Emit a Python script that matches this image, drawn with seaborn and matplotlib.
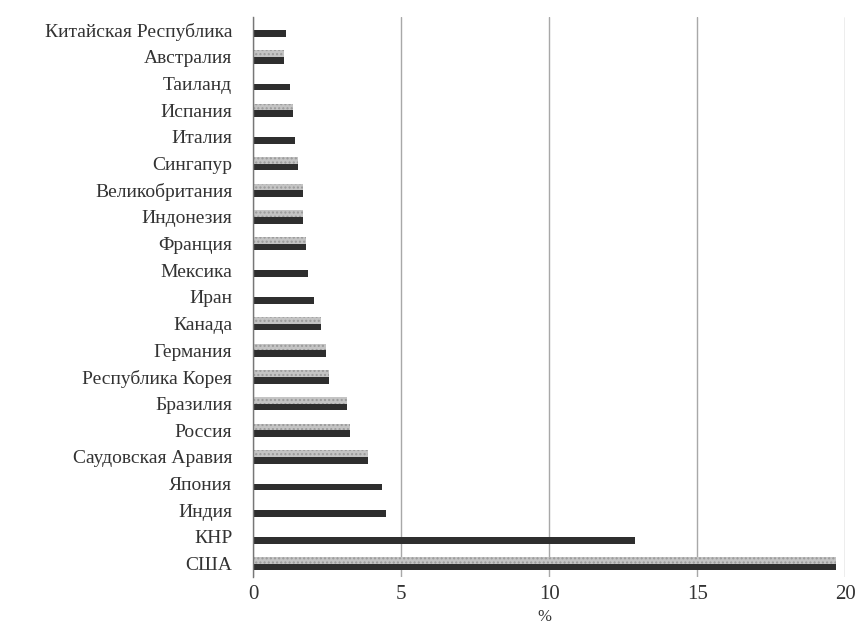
import matplotlib
matplotlib.use("Agg")
import matplotlib.pyplot as plt
import seaborn as sns
import pandas as pd
import numpy as np

countries = ["Китайская Республика", "Австралия", "Таиланд", "Испания", "Италия",
             "Сингапур", "Великобритания", "Индонезия", "Франция", "Мексика",
             "Иран", "Канада", "Германия", "Республика Корея", "Бразилия",
             "Россия", "Саудовская Аравия", "Япония", "Индия", "КНР", "США"]
dark_values = [1.1, 1.05, 1.25, 1.35, 1.4, 1.5, 1.7, 1.7, 1.8, 1.85,
               2.05, 2.3, 2.45, 2.57, 3.18, 3.28, 3.88, 4.36, 4.5, 12.9, 19.7]
light_values = [0, 1.05, 0, 1.35, 0, 1.5, 1.7, 1.7, 1.8, 0,
                0, 2.3, 2.45, 2.57, 3.18, 3.28, 3.88, 0, 0, 0, 19.7]
series_names = ["light", "dark"]
x_ticks = [0, 5, 10, 15, 20]

df = pd.DataFrame({
    "country": countries * 2,
    "value": light_values + dark_values,
    "series": [series_names[0]] * len(countries) + [series_names[1]] * len(countries),
})

sns.set_style("white")
plt.rcParams["font.family"] = ["Liberation Serif", "DejaVu Serif"]

fig = plt.figure(figsize=(8.58, 6.25), dpi=100)
ax = fig.add_axes([0.295, 0.077, 0.69, 0.896])

sns.barplot(data=df, y="country", x="value", hue="series", order=countries,
            hue_order=series_names, palette={"light": "#c4c4c4", "dark": "#2e2e2e"},
            orient="h", width=0.5, ax=ax, legend=False, saturation=1,
            edgecolor="none")

for p in ax.patches[:len(countries)]:
    p.set_hatch("....")
    p.set_edgecolor("#9a9a9a")
    p.set_linewidth(0)

ax.set_xlim(0, 20)
ax.set_xticks(x_ticks)
ax.set_xticklabels([str(t) for t in x_ticks], fontsize=15, color="#333333")
ax.tick_params(axis="x", length=0, pad=6)
ax.tick_params(axis="y", length=0, labelsize=14, labelcolor="#333333", pad=15)
ax.set_yticks(np.arange(len(countries)))
ax.set_yticks(np.arange(len(countries) + 1) - 0.5, minor=True)
ax.tick_params(axis="y", which="minor", length=4, color="#666666", direction="out")
ax.set_ylim(len(countries) - 0.5, -0.5)
ax.set_ylabel("")
ax.set_xlabel("")
fig.text(0.635, 0.0, "%", fontsize=12, ha="center", va="bottom", color="#333333")

ax.xaxis.grid(True, color="#a8a8a8", linewidth=1)
ax.set_axisbelow(True)
for s in ["top", "right", "bottom"]:
    ax.spines[s].set_visible(False)
ax.spines["left"].set_color("#777777")
ax.spines["left"].set_linewidth(1)

fig.savefig("out.png", dpi=100)
